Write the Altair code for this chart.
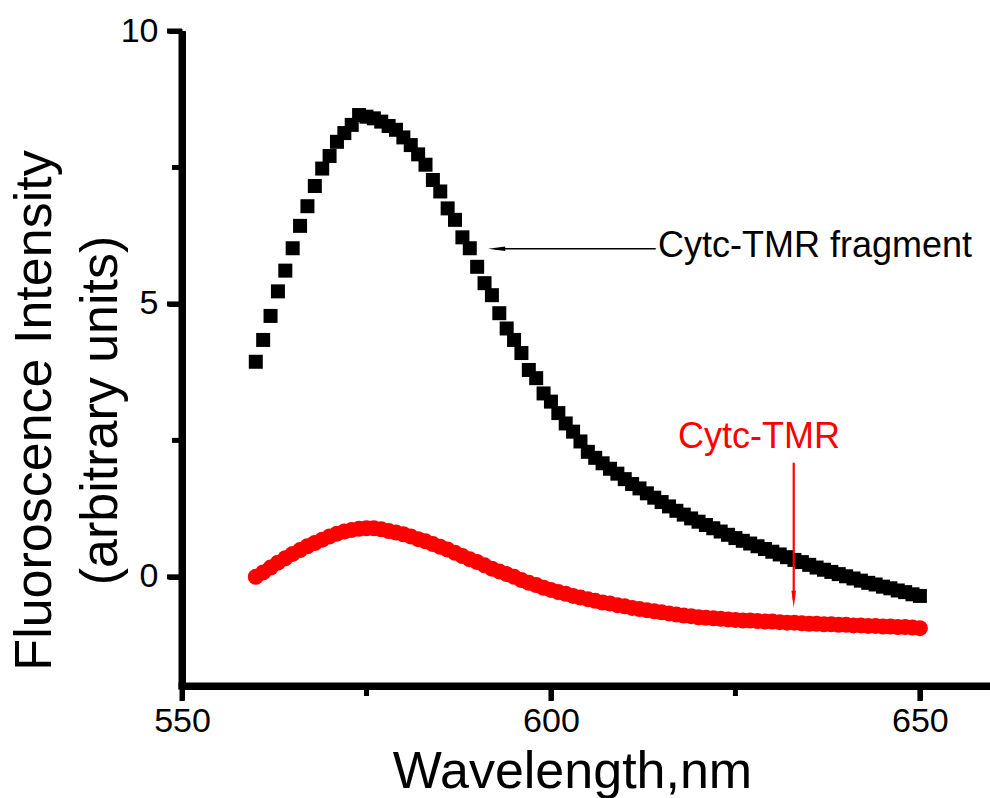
import altair as alt
import pandas as pd

# Emission spectra, 560-650 nm in 1 nm steps
wavelength = list(range(560, 651))

fragment = [
    3.94, 4.34, 4.78, 5.23, 5.61, 6.02, 6.43, 6.79, 7.16, 7.48,
    7.71, 7.97, 8.13, 8.28, 8.46, 8.43, 8.40, 8.34, 8.26, 8.19,
    8.05, 7.91, 7.74, 7.55, 7.27, 7.06, 6.75, 6.54, 6.22, 6.02,
    5.68, 5.38, 5.16, 4.83, 4.55, 4.34, 4.10, 3.79, 3.64, 3.36,
    3.21, 3.00, 2.81, 2.66, 2.48, 2.29, 2.18, 2.08, 1.98, 1.89,
    1.79, 1.70, 1.62, 1.53, 1.45, 1.37, 1.29, 1.21, 1.14, 1.07,
    1.01, 0.95, 0.89, 0.83, 0.77, 0.71, 0.66, 0.61, 0.56, 0.51,
    0.46, 0.41, 0.36, 0.31, 0.27, 0.22, 0.17, 0.13, 0.09, 0.05,
    0.01, -0.03, -0.07, -0.11, -0.14, -0.18, -0.21, -0.25, -0.28, -0.32,
    -0.35,
]

cytc_tmr = [
    0.00, 0.08, 0.17, 0.26, 0.34, 0.42, 0.49, 0.56, 0.62, 0.68,
    0.74, 0.79, 0.83, 0.86, 0.88, 0.89, 0.89, 0.87, 0.84, 0.81,
    0.78, 0.74, 0.69, 0.65, 0.60, 0.55, 0.50, 0.44, 0.38, 0.32,
    0.27, 0.21, 0.15, 0.10, 0.05, 0.00, -0.06, -0.11, -0.15, -0.20,
    -0.24, -0.28, -0.31, -0.35, -0.38, -0.41, -0.44, -0.47, -0.49, -0.52,
    -0.54, -0.57, -0.59, -0.61, -0.63, -0.65, -0.67, -0.69, -0.71, -0.72,
    -0.74, -0.75, -0.76, -0.77, -0.78, -0.79, -0.80, -0.80, -0.81, -0.82,
    -0.82, -0.83, -0.84, -0.84, -0.85, -0.86, -0.86, -0.87, -0.87, -0.88,
    -0.88, -0.89, -0.89, -0.90, -0.90, -0.91, -0.91, -0.92, -0.92, -0.93,
    -0.94,
]

x_major = [550, 600, 650]
y_major = [0, 5, 10]
x_minor = [575, 625]
y_minor = [2.5, 7.5]

FONT = "Liberation Sans"
X_MIN, X_MAX = 550, 659.5
Y_MIN, Y_MAX = -2, 10
W, H = 808, 655

df_frag = pd.DataFrame({"wavelength": wavelength, "intensity": fragment})
df_red = pd.DataFrame({"wavelength": wavelength, "intensity": cytc_tmr})

x_scale = alt.Scale(domain=[X_MIN, X_MAX], nice=False, zero=False)
y_scale = alt.Scale(domain=[Y_MIN, Y_MAX], nice=False, zero=False)

x_axis = alt.Axis(
    values=x_major, format="d",
    tickSize=14, tickWidth=5, tickColor="black",
    domainWidth=7, domainColor="black",
    labelFont=FONT, labelFontSize=34, labelColor="black", labelPadding=4,
    labelFlush=False, labelOverlap=False, grid=False,
    title="Wavelength,nm", titleFont=FONT, titleFontSize=52,
    titleFontWeight="normal", titleColor="black",
    titleX=390, titleY=101, titleBaseline="alphabetic", titleAlign="center",
)

y_axis = alt.Axis(
    values=y_major, format="d",
    tickSize=14, tickWidth=5, tickColor="black",
    domainWidth=7, domainColor="black",
    labelFont=FONT, labelFontSize=34, labelColor="black", labelPadding=10,
    labelFlush=False, labelOverlap=False, grid=False,
    title=["Fluoroscence Intensity", "(arbitrary units)"],
    titleFont=FONT, titleFontSize=52, titleFontWeight="normal",
    titleColor="black", titleLineHeight=66,
    titleX=-132, titleY=379, titleBaseline="alphabetic", titleAlign="center",
    titleAngle=270,
)

X = alt.X("wavelength:Q", scale=x_scale, axis=x_axis)
Y = alt.Y("intensity:Q", scale=y_scale, axis=y_axis)

# Pixel sizes expressed in data units
px_x = (X_MAX - X_MIN) / W
px_y = (Y_MAX - Y_MIN) / H

# Heavy axis frame and outward ticks drawn as filled bars
half = 3.5
tick_half = 2.5
frame_rows = [
    # bottom axis line
    (X_MIN - half * px_x, X_MAX, Y_MIN - half * px_y, Y_MIN + half * px_y),
    # left axis line
    (X_MIN - half * px_x, X_MIN + half * px_x, Y_MIN - half * px_y, Y_MAX),
]
for v in x_major + x_minor:
    length = 15 if v in x_major else 10
    frame_rows.append((v - tick_half * px_x, v + tick_half * px_x, Y_MIN - length * px_y, Y_MIN))
for v in y_major + y_minor:
    length = 15 if v in y_major else 10
    frame_rows.append((X_MIN - length * px_x, X_MIN, v - tick_half * px_y, v + tick_half * px_y))

frame_df = pd.DataFrame(frame_rows, columns=["wavelength", "wavelength2", "intensity", "intensity2"])
frame = alt.Chart(frame_df).mark_rect(color="black", opacity=1).encode(
    x=X, x2="wavelength2:Q", y=Y, y2="intensity2:Q"
)

red = alt.Chart(df_red).mark_circle(size=256, color="#ff0000", opacity=1).encode(
    x=X, y=Y
)

black = alt.Chart(df_frag).mark_point(
    shape="square", filled=True, size=196, color="black", opacity=1
).encode(x=X, y=Y)

# Annotation arrows and labels, placed in data units
frag_arrow = pd.DataFrame({
    "wavelength": [592.4], "wavelength2": [614.2],
    "intensity": [6.01 - 0.8 * px_y], "intensity2": [6.01 + 0.8 * px_y],
})
frag_head = pd.DataFrame({"wavelength": [592.65], "intensity": [6.01]})
frag_label = pd.DataFrame({"wavelength": [614.5], "intensity": [5.86], "text": ["Cytc-TMR fragment"]})

red_arrow = pd.DataFrame({
    "wavelength": [632.9 - 1.1 * px_x], "wavelength2": [632.9 + 1.1 * px_x],
    "intensity": [2.09], "intensity2": [-0.42],
})
red_head = pd.DataFrame({"wavelength": [632.9], "intensity": [-0.41]})
red_label = pd.DataFrame({"wavelength": [628.2], "intensity": [2.36], "text": ["Cytc-TMR"]})

frag_line = alt.Chart(frag_arrow).mark_rect(color="black", opacity=1).encode(
    x=X, x2="wavelength2:Q", y=Y, y2="intensity2:Q"
)
frag_tip = alt.Chart(frag_head).mark_point(
    shape="M -1 0 L 1 -0.27 L 1 0.27 Z", size=289, filled=True,
    color="black", opacity=1,
).encode(x=X, y=Y)
frag_text = alt.Chart(frag_label).mark_text(
    align="left", baseline="alphabetic", font=FONT, fontSize=36, color="black"
).encode(x=X, y=Y, text="text:N")

red_line = alt.Chart(red_arrow).mark_rect(color="#ff0000", opacity=1).encode(
    x=X, x2="wavelength2:Q", y=Y, y2="intensity2:Q"
)
red_tip = alt.Chart(red_head).mark_point(
    shape="M 0 1 L -0.27 -1 L 0.27 -1 Z", size=289, filled=True,
    color="#ff0000", opacity=1,
).encode(x=X, y=Y)
red_text = alt.Chart(red_label).mark_text(
    align="center", baseline="alphabetic", font=FONT, fontSize=36, color="#ff0000"
).encode(x=X, y=Y, text="text:N")

chart = alt.layer(
    red, black, frame,
    frag_line, frag_tip, frag_text, red_line, red_tip, red_text,
).properties(
    width=W, height=H,
    autosize=alt.AutoSizeParams(type="none"),
    padding={"left": 182, "top": 31, "right": 0, "bottom": 112},
    background="white",
).configure_view(stroke=None)

chart.save("out.html", embed_options={"renderer": "svg", "actions": False})
